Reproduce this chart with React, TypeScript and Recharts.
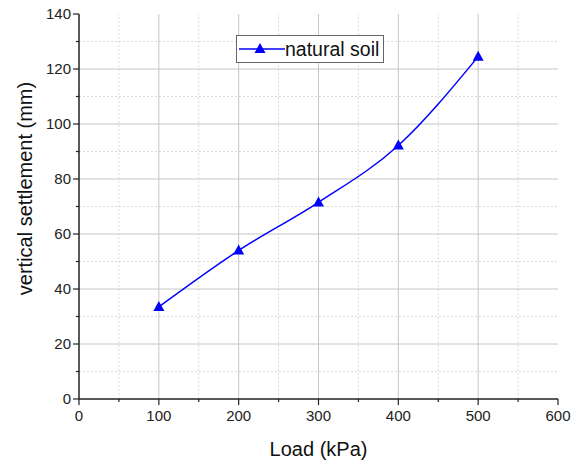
import { Line, LineChart, XAxis, YAxis, ReferenceLine } from "recharts";

const loads = [100, 200, 300, 400, 500];
const settlement = [33.5, 54, 71.5, 92.2, 124.5];

const xTicks = [0, 50, 100, 150, 200, 250, 300, 350, 400, 450, 500, 550, 600];
const yTicks = [0, 10, 20, 30, 40, 50, 60, 70, 80, 90, 100, 110, 120, 130, 140];
const xMajor = [100, 200, 300, 400, 500];
const yMajor = [20, 40, 60, 80, 100, 120];
const xMinor = [50, 150, 250, 350, 450, 550];
const yMinor = [10, 30, 50, 70, 90, 110, 130];

const data = loads.map((load, i) => ({ load, settlement: settlement[i] }));

const FONT = "'Liberation Sans', Arial, sans-serif";
const BLUE = "#0000ff";
const AXIS = "#222";

function Triangle(props: any) {
  const { cx, cy } = props;
  if (cx == null || cy == null) return null;
  return <polygon key={`t-${cx}`} points={`${cx},${cy - 6} ${cx - 5.5},${cy + 4} ${cx + 5.5},${cy + 4}`} fill={BLUE} />;
}

const leftTick = (p: any) => {
  const v = p.payload.value;
  const major = v % 20 === 0;
  return (
    <g>
      <line x1={p.x} x2={p.x - (major ? 6 : 3)} y1={p.y} y2={p.y} stroke={AXIS} strokeWidth={1.2} />
      {major && (
        <text x={p.x - 8} y={p.y} dy={5} textAnchor="end" fontSize={15} fontFamily={FONT} fill="#222">
          {v}
        </text>
      )}
    </g>
  );
};

const bottomTick = (p: any) => {
  const v = p.payload.value;
  const major = v % 100 === 0;
  return (
    <g>
      <line x1={p.x} x2={p.x} y1={p.y} y2={p.y + (major ? 6 : 3)} stroke={AXIS} strokeWidth={1.2} />
      {major && (
        <text x={p.x} y={p.y + 22} textAnchor="middle" fontSize={15} fontFamily={FONT} fill="#222">
          {v}
        </text>
      )}
    </g>
  );
};

const topTick = (p: any) => {
  const major = p.payload.value % 100 === 0;
  return <line x1={p.x} x2={p.x} y1={p.y} y2={p.y + (major ? 6 : 3)} stroke={AXIS} strokeWidth={1.2} />;
};

const rightTick = (p: any) => {
  const major = p.payload.value % 20 === 0;
  return <line x1={p.x} x2={p.x - (major ? 6 : 3)} y1={p.y} y2={p.y} stroke={AXIS} strokeWidth={1.2} />;
};

const yLabel = (p: any) => {
  const vb = p.viewBox;
  const cx = 25;
  const cy = vb.y + vb.height / 2 - 18;
  return (
    <text
      x={cx}
      y={cy}
      transform={`rotate(-90 ${cx} ${cy})`}
      textAnchor="middle"
      dominantBaseline="central"
      fontSize={20}
      fontFamily={FONT}
      fill="#111"
    >
      vertical settlement (mm)
    </text>
  );
};

const xLabel = (p: any) => {
  const vb = p.viewBox;
  return (
    <text x={vb.x + vb.width / 2} y={456} textAnchor="middle" fontSize={20} fontFamily={FONT} fill="#111">
      Load (kPa)
    </text>
  );
};

function LegendBox() {
  return (
    <svg width={148} height={29} style={{ position: "absolute", left: 236, top: 35 }}>
      <rect x={0.5} y={0.5} width={147} height={27} fill="#fff" stroke="#666" strokeWidth={1} />
      <line x1={3} x2={49} y1={14} y2={14} stroke={BLUE} strokeWidth={1.5} />
      <polygon points="24,8 18.5,18 29.5,18" fill={BLUE} />
      <text x={49} y={21} fontSize={19.5} fontFamily={FONT} fill="#111">
        natural soil
      </text>
    </svg>
  );
}

export default function App() {
  return (
    <div style={{ position: "absolute", left: 0, top: 0, width: 584, height: 462, background: "#fff" }}>
      <LineChart width={584} height={462} data={data} margin={{ top: 14, right: 26, bottom: 0, left: 0 }}>
        {xMinor.map((v) => (
          <ReferenceLine key={`xm${v}`} x={v} stroke="#dadada" strokeDasharray="2 2" />
        ))}
        {yMinor.map((v) => (
          <ReferenceLine key={`ym${v}`} y={v} stroke="#dadada" strokeDasharray="2 2" />
        ))}
        {xMajor.map((v) => (
          <ReferenceLine key={`xM${v}`} x={v} stroke="#c6c6c6" />
        ))}
        {yMajor.map((v) => (
          <ReferenceLine key={`yM${v}`} y={v} stroke="#c6c6c6" />
        ))}
        <XAxis
          dataKey="load"
          type="number"
          domain={[0, 600]}
          ticks={xTicks}
          interval={0}
          height={63}
          tickSize={0}
          tickMargin={0}
          tickLine={false}
          tick={bottomTick}
          axisLine={{ stroke: AXIS, strokeWidth: 1.5 }}
          label={{ content: xLabel }}
        />
        <XAxis
          xAxisId="top"
          orientation="top"
          dataKey="load"
          type="number"
          domain={[0, 600]}
          ticks={xTicks}
          interval={0}
          height={0}
          tickSize={0}
          tickMargin={0}
          tickLine={false}
          tick={topTick}
          axisLine={{ stroke: AXIS, strokeWidth: 1.5 }}
        />
        <YAxis
          type="number"
          domain={[0, 140]}
          ticks={yTicks}
          interval={0}
          width={79}
          tickSize={0}
          tickMargin={0}
          tickLine={false}
          tick={leftTick}
          axisLine={{ stroke: AXIS, strokeWidth: 1.5 }}
          label={{ content: yLabel }}
        />
        <YAxis
          yAxisId="right"
          orientation="right"
          type="number"
          domain={[0, 140]}
          ticks={yTicks}
          interval={0}
          width={0}
          tickSize={0}
          tickMargin={0}
          tickLine={false}
          tick={rightTick}
          axisLine={{ stroke: AXIS, strokeWidth: 1.5 }}
        />
        <Line
          xAxisId="top"
          yAxisId="right"
          dataKey="settlement"
          stroke="none"
          dot={false}
          activeDot={false}
          legendType="none"
          isAnimationActive={false}
        />
        <Line
          type="monotone"
          dataKey="settlement"
          stroke={BLUE}
          strokeWidth={1.5}
          dot={Triangle}
          activeDot={false}
          isAnimationActive={false}
        />
      </LineChart>
      <LegendBox />
    </div>
  );
}
